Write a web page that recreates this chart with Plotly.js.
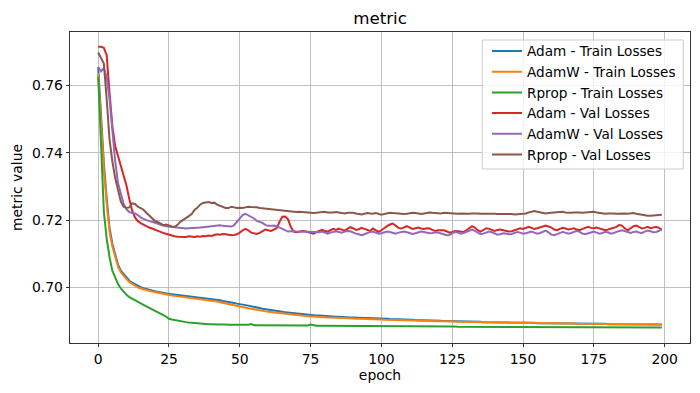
<!DOCTYPE html>
<html>
<head>
<meta charset="utf-8">
<script src="https://cdn.plot.ly/plotly-3.0.1.min.js"></script>
<style>html,body{margin:0;padding:0;background:#fff;}#chart{width:700px;height:393px;}</style>
</head>
<body>
<div id="chart"></div>
<script>
const epochs = Array.from({length: 200}, (_, i) => i);
const xTicks = [0, 25, 50, 75, 100, 125, 150, 175, 200];
const yTicks = [0.70, 0.72, 0.74, 0.76];
const seriesNames = ["Adam - Train Losses", "AdamW - Train Losses", "Rprop - Train Losses",
                     "Adam - Val Losses", "AdamW - Val Losses", "Rprop - Val Losses"];

const adamTrain = [
0.7655,0.7500,0.7370,0.7265,0.7178,0.7130,0.7095,0.7068,0.7050,0.7039,
0.7029,0.7020,0.7014,0.7009,0.7004,0.7001,0.6998,0.6995,0.6993,0.6991,
0.6989,0.6987,0.6985,0.6984,0.6982,0.6981,0.6980,0.6979,0.6978,0.6977,
0.6976,0.6975,0.6974,0.6973,0.6972,0.6971,0.6970,0.6969,0.6968,0.6967,
0.6966,0.6964,0.6963,0.6962,0.6960,0.6959,0.6957,0.6956,0.6954,0.6952,
0.6951,0.6949,0.6947,0.6946,0.6944,0.6943,0.6941,0.6939,0.6937,0.6936,
0.6934,0.6933,0.6932,0.6930,0.6929,0.6928,0.6926,0.6925,0.6924,0.6923,
0.6922,0.6921,0.6921,0.6920,0.6919,0.6918,0.6918,0.6917,0.6917,0.6916,
0.6915,0.6915,0.6914,0.6914,0.6913,0.6913,0.6912,0.6912,0.6911,0.6911,
0.6911,0.6910,0.6910,0.6910,0.6909,0.6909,0.6909,0.6908,0.6908,0.6908,
0.6907,0.6907,0.6907,0.6906,0.6906,0.6906,0.6905,0.6905,0.6905,0.6904,
0.6904,0.6904,0.6903,0.6903,0.6903,0.6902,0.6902,0.6902,0.6901,0.6901,
0.6901,0.6901,0.6900,0.6900,0.6900,0.6900,0.6899,0.6899,0.6899,0.6899,
0.6899,0.6898,0.6898,0.6898,0.6898,0.6898,0.6897,0.6897,0.6897,0.6897,
0.6897,0.6897,0.6896,0.6896,0.6896,0.6896,0.6896,0.6896,0.6895,0.6895,
0.6895,0.6895,0.6895,0.6895,0.6895,0.6894,0.6894,0.6894,0.6894,0.6894,
0.6894,0.6894,0.6893,0.6893,0.6893,0.6893,0.6893,0.6893,0.6893,0.6893,
0.6892,0.6892,0.6892,0.6892,0.6892,0.6892,0.6892,0.6892,0.6892,0.6892,
0.6891,0.6891,0.6891,0.6891,0.6891,0.6891,0.6891,0.6891,0.6891,0.6891,
0.6891,0.6891,0.6890,0.6890,0.6890,0.6890,0.6890,0.6890,0.6890,0.6890];

const adamwTrain = [
0.7637,0.7480,0.7350,0.7250,0.7166,0.7122,0.7088,0.7062,0.7045,0.7034,
0.7025,0.7016,0.7010,0.7005,0.7000,0.6997,0.6994,0.6992,0.6990,0.6988,
0.6986,0.6984,0.6982,0.6980,0.6979,0.6977,0.6976,0.6975,0.6974,0.6973,
0.6972,0.6971,0.6970,0.6969,0.6968,0.6967,0.6966,0.6965,0.6964,0.6963,
0.6961,0.6959,0.6958,0.6956,0.6954,0.6953,0.6951,0.6949,0.6947,0.6945,
0.6943,0.6941,0.6940,0.6938,0.6937,0.6935,0.6934,0.6932,0.6931,0.6929,
0.6928,0.6927,0.6926,0.6924,0.6923,0.6922,0.6921,0.6920,0.6919,0.6918,
0.6917,0.6917,0.6916,0.6915,0.6915,0.6914,0.6914,0.6913,0.6913,0.6912,
0.6912,0.6911,0.6911,0.6910,0.6910,0.6910,0.6909,0.6909,0.6908,0.6908,
0.6908,0.6907,0.6907,0.6907,0.6906,0.6906,0.6906,0.6905,0.6905,0.6905,
0.6905,0.6904,0.6904,0.6904,0.6904,0.6903,0.6903,0.6903,0.6903,0.6902,
0.6902,0.6902,0.6902,0.6901,0.6901,0.6901,0.6901,0.6900,0.6900,0.6900,
0.6900,0.6900,0.6899,0.6899,0.6899,0.6899,0.6899,0.6898,0.6898,0.6898,
0.6898,0.6898,0.6897,0.6897,0.6897,0.6897,0.6897,0.6897,0.6896,0.6896,
0.6896,0.6896,0.6896,0.6896,0.6896,0.6895,0.6895,0.6895,0.6895,0.6895,
0.6895,0.6895,0.6894,0.6894,0.6894,0.6894,0.6894,0.6894,0.6894,0.6894,
0.6893,0.6893,0.6893,0.6893,0.6893,0.6893,0.6893,0.6893,0.6893,0.6892,
0.6892,0.6892,0.6892,0.6892,0.6892,0.6892,0.6892,0.6892,0.6892,0.6892,
0.6891,0.6891,0.6891,0.6891,0.6891,0.6891,0.6891,0.6891,0.6891,0.6891,
0.6891,0.6891,0.6891,0.6890,0.6890,0.6890,0.6890,0.6890,0.6890,0.6890];

const rpropTrain = [
0.7626,0.7420,0.7225,0.7145,0.7090,0.7050,0.7027,0.7010,0.6997,0.6986,
0.6978,0.6971,0.6966,0.6962,0.6957,0.6952,0.6948,0.6944,0.6940,0.6935,
0.6931,0.6927,0.6923,0.6918,0.6913,0.6907,0.6905,0.6903,0.6901,0.6899,
0.6898,0.6897,0.6896,0.6895,0.6894,0.6893,0.6893,0.6892,0.6892,0.6891,
0.6891,0.6890,0.6890,0.6890,0.6890,0.6889,0.6889,0.6889,0.6889,0.6889,
0.6889,0.6888,0.6888,0.6889,0.6891,0.6888,0.6888,0.6888,0.6888,0.6888,
0.6888,0.6887,0.6887,0.6887,0.6887,0.6887,0.6887,0.6887,0.6887,0.6887,
0.6887,0.6887,0.6887,0.6887,0.6887,0.6890,0.6887,0.6886,0.6886,0.6886,
0.6886,0.6886,0.6886,0.6886,0.6886,0.6886,0.6886,0.6886,0.6886,0.6886,
0.6885,0.6885,0.6885,0.6885,0.6885,0.6885,0.6885,0.6885,0.6885,0.6885,
0.6885,0.6885,0.6885,0.6885,0.6885,0.6885,0.6884,0.6884,0.6884,0.6884,
0.6884,0.6884,0.6884,0.6884,0.6884,0.6884,0.6884,0.6884,0.6884,0.6884,
0.6884,0.6884,0.6884,0.6884,0.6884,0.6884,0.6884,0.6883,0.6883,0.6883,
0.6883,0.6883,0.6883,0.6883,0.6883,0.6883,0.6883,0.6883,0.6883,0.6883,
0.6883,0.6883,0.6883,0.6883,0.6883,0.6883,0.6883,0.6883,0.6883,0.6883,
0.6883,0.6883,0.6882,0.6882,0.6882,0.6882,0.6882,0.6882,0.6882,0.6882,
0.6882,0.6882,0.6882,0.6882,0.6882,0.6882,0.6882,0.6882,0.6882,0.6882,
0.6882,0.6882,0.6882,0.6882,0.6882,0.6882,0.6882,0.6882,0.6882,0.6882,
0.6882,0.6881,0.6881,0.6881,0.6881,0.6881,0.6881,0.6881,0.6881,0.6881,
0.6881,0.6881,0.6881,0.6881,0.6881,0.6881,0.6881,0.6881,0.6881,0.6881];

const adamVal = [
0.7715,0.7715,0.7712,0.7690,0.7580,0.7480,0.7420,0.7392,0.7360,0.7335,
0.7302,0.7262,0.7228,0.7208,0.7197,0.7191,0.7186,0.7182,0.7178,0.7175,
0.7171,0.7168,0.7165,0.7162,0.7159,0.7156,0.7154,0.7152,0.7151,0.7150,
0.7151,0.7150,0.7152,0.7151,0.7150,0.7152,0.7151,0.7153,0.7152,0.7154,
0.7153,0.7156,0.7158,0.7157,0.7159,0.7158,0.7156,0.7155,0.7156,0.7158,
0.7163,0.7170,0.7174,0.7170,0.7163,0.7160,0.7159,0.7162,0.7168,0.7172,
0.7170,0.7168,0.7172,0.7176,0.7195,0.7210,0.7211,0.7203,0.7180,0.7166,
0.7164,0.7166,0.7168,0.7167,0.7164,0.7161,0.7160,0.7164,0.7168,0.7171,
0.7168,0.7166,0.7170,0.7174,0.7171,0.7175,0.7172,0.7169,0.7174,0.7179,
0.7176,0.7171,0.7173,0.7177,0.7174,0.7170,0.7168,0.7175,0.7171,0.7165,
0.7170,0.7177,0.7182,0.7187,0.7190,0.7184,0.7177,0.7175,0.7179,0.7182,
0.7178,0.7174,0.7176,0.7178,0.7175,0.7174,0.7176,0.7175,0.7171,0.7168,
0.7170,0.7171,0.7170,0.7167,0.7163,0.7165,0.7168,0.7167,0.7166,0.7165,
0.7170,0.7177,0.7182,0.7178,0.7170,0.7166,0.7170,0.7176,0.7174,0.7170,
0.7168,0.7171,0.7172,0.7170,0.7168,0.7166,0.7167,0.7170,0.7173,0.7176,
0.7174,0.7176,0.7180,0.7177,0.7174,0.7176,0.7179,0.7182,0.7184,0.7181,
0.7178,0.7172,0.7170,0.7174,0.7177,0.7175,0.7172,0.7174,0.7176,0.7172,
0.7170,0.7174,0.7178,0.7180,0.7177,0.7176,0.7178,0.7176,0.7173,0.7170,
0.7172,0.7174,0.7176,0.7180,0.7186,0.7183,0.7175,0.7170,0.7176,0.7182,
0.7184,0.7179,0.7175,0.7177,0.7180,0.7176,0.7178,0.7180,0.7177,0.7172];

const adamwVal = [
0.7655,0.7642,0.7652,0.7625,0.7560,0.7460,0.7375,0.7310,0.7275,0.7248,
0.7232,0.7224,0.7221,0.7220,0.7215,0.7208,0.7204,0.7200,0.7197,0.7195,
0.7192,0.7188,0.7185,0.7184,0.7182,0.7181,0.7180,0.7178,0.7177,0.7176,
0.7176,0.7175,0.7176,0.7176,0.7177,0.7177,0.7178,0.7179,0.7180,0.7181,
0.7182,0.7184,0.7186,0.7185,0.7183,0.7182,0.7181,0.7181,0.7185,0.7195,
0.7205,0.7215,0.7219,0.7215,0.7210,0.7205,0.7198,0.7196,0.7192,0.7186,
0.7183,0.7183,0.7184,0.7182,0.7178,0.7173,0.7168,0.7166,0.7167,0.7168,
0.7166,0.7166,0.7167,0.7166,0.7165,0.7165,0.7166,0.7165,0.7164,0.7166,
0.7163,0.7160,0.7163,0.7166,0.7167,0.7165,0.7163,0.7166,0.7168,0.7167,
0.7163,0.7160,0.7158,0.7155,0.7158,0.7162,0.7165,0.7166,0.7163,0.7160,
0.7161,0.7164,0.7166,0.7165,0.7162,0.7160,0.7163,0.7165,0.7166,0.7164,
0.7161,0.7159,0.7161,0.7164,0.7166,0.7165,0.7163,0.7161,0.7162,0.7164,
0.7163,0.7160,0.7157,0.7155,0.7156,0.7160,0.7165,0.7163,0.7160,0.7162,
0.7166,0.7170,0.7172,0.7168,0.7162,0.7158,0.7160,0.7164,0.7166,0.7164,
0.7160,0.7157,0.7158,0.7161,0.7160,0.7158,0.7159,0.7162,0.7165,0.7163,
0.7160,0.7161,0.7164,0.7166,0.7163,0.7160,0.7162,0.7166,0.7169,0.7164,
0.7157,0.7155,0.7158,0.7162,0.7165,0.7163,0.7160,0.7162,0.7166,0.7168,
0.7165,0.7160,0.7158,0.7161,0.7165,0.7166,0.7163,0.7160,0.7162,0.7165,
0.7164,0.7160,0.7162,0.7166,0.7168,0.7170,0.7167,0.7163,0.7162,0.7165,
0.7166,0.7163,0.7162,0.7166,0.7169,0.7167,0.7164,0.7165,0.7169,0.7172];

const rpropVal = [
0.7698,0.7682,0.7665,0.7560,0.7440,0.7375,0.7325,0.7290,0.7255,0.7240,
0.7236,0.7238,0.7250,0.7248,0.7240,0.7236,0.7231,0.7222,0.7213,0.7205,
0.7198,0.7195,0.7190,0.7185,0.7187,0.7183,0.7181,0.7180,0.7186,0.7195,
0.7200,0.7207,0.7212,0.7218,0.7230,0.7237,0.7246,0.7251,0.7253,0.7254,
0.7251,0.7252,0.7246,0.7243,0.7240,0.7236,0.7236,0.7240,0.7238,0.7236,
0.7237,0.7236,0.7238,0.7240,0.7239,0.7239,0.7238,0.7236,0.7235,0.7235,
0.7233,0.7234,0.7232,0.7230,0.7229,0.7229,0.7227,0.7226,0.7227,0.7225,
0.7224,0.7225,0.7224,0.7222,0.7223,0.7222,0.7221,0.7222,0.7223,0.7226,
0.7225,0.7223,0.7222,0.7223,0.7224,0.7223,0.7221,0.7220,0.7222,0.7223,
0.7222,0.7220,0.7218,0.7217,0.7219,0.7221,0.7220,0.7219,0.7221,0.7218,
0.7216,0.7218,0.7221,0.7222,0.7221,0.7220,0.7221,0.7220,0.7218,0.7219,
0.7221,0.7222,0.7221,0.7219,0.7218,0.7220,0.7222,0.7223,0.7222,0.7221,
0.7219,0.7220,0.7222,0.7221,0.7220,0.7219,0.7218,0.7219,0.7220,0.7219,
0.7218,0.7219,0.7220,0.7221,0.7220,0.7219,0.7219,0.7220,0.7221,0.7220,
0.7219,0.7218,0.7218,0.7219,0.7220,0.7219,0.7218,0.7217,0.7218,0.7217,
0.7218,0.7220,0.7223,0.7226,0.7227,0.7225,0.7223,0.7221,0.7220,0.7221,
0.7222,0.7224,0.7225,0.7226,0.7225,0.7223,0.7222,0.7222,0.7223,0.7224,
0.7223,0.7222,0.7223,0.7224,0.7225,0.7225,0.7223,0.7221,0.7220,0.7219,
0.7220,0.7221,0.7220,0.7219,0.7220,0.7221,0.7220,0.7219,0.7220,0.7221,
0.7219,0.7217,0.7215,0.7214,0.7213,0.7213,0.7214,0.7215,0.7216,0.7216];

const seriesValues = [adamTrain, adamwTrain, rpropTrain, adamVal, adamwVal, rpropVal];
const colors = ["#1f77b4", "#ff7f0e", "#2ca02c", "#d62728", "#9467bd", "#8c564b"];

const FONT = "DejaVu Sans, sans-serif";
const traces = seriesValues.map((vals, i) => ({
  x: epochs, y: vals, type: "scatter", mode: "lines",
  name: seriesNames[i],
  line: {color: colors[i], width: 2}
}));

const axisCommon = {
  showline: true, linecolor: "#000", linewidth: 0.8, mirror: true,
  ticks: "outside", ticklen: 3.5, tickwidth: 0.8, tickcolor: "#000",
  showgrid: true, gridcolor: "#b0b0b0", gridwidth: 0.8, zeroline: false,
  tickfont: {family: FONT, size: 13.9, color: "#000"},
  automargin: false
};

const layout = {
  width: 700, height: 393, autosize: false,
  paper_bgcolor: "#fff", plot_bgcolor: "#fff",
  margin: {l: 70, r: 10, t: 32, b: 50},
  font: {family: FONT, color: "#000"},
  title: {text: "metric", font: {family: FONT, size: 16.7, color: "#000"},
          x: 0.5, xref: "paper", xanchor: "center", y: 1, yref: "paper", yanchor: "bottom", pad: {b: 8}},
  xaxis: Object.assign({}, axisCommon, {
    range: [-9.95, 208.95], tickmode: "array", tickvals: xTicks, ticktext: xTicks.map(String),
    title: {text: "epoch", font: {family: FONT, size: 13.9, color: "#000"}, standoff: 4}
  }),
  yaxis: Object.assign({}, axisCommon, {
    range: [0.6835, 0.7759], tickmode: "array", tickvals: yTicks, ticktext: yTicks.map(v => v.toFixed(2)),
    title: {text: "metric value", font: {family: FONT, size: 13.9, color: "#000"}, standoff: 6}
  }),
  shapes: [{
    type: "rect", xref: "paper", yref: "paper", layer: "above",
    x0: 0.665, x1: 0.9892, y0: 0.5595, y1: 0.9743,
    fillcolor: "rgba(255,255,255,0.8)", line: {color: "#cccccc", width: 1}
  }],
  showlegend: true,
  legend: {
    x: 0.6726, xanchor: "left", y: 0.988, yanchor: "top",
    bgcolor: "rgba(0,0,0,0)", borderwidth: 0,
    font: {family: FONT, size: 13.6, color: "#000"},
    itemwidth: 30, tracegroupgap: 0
  }
};

Plotly.newPlot("chart", traces, layout, {displayModeBar: false, staticPlot: true});
</script>
</body>
</html>
